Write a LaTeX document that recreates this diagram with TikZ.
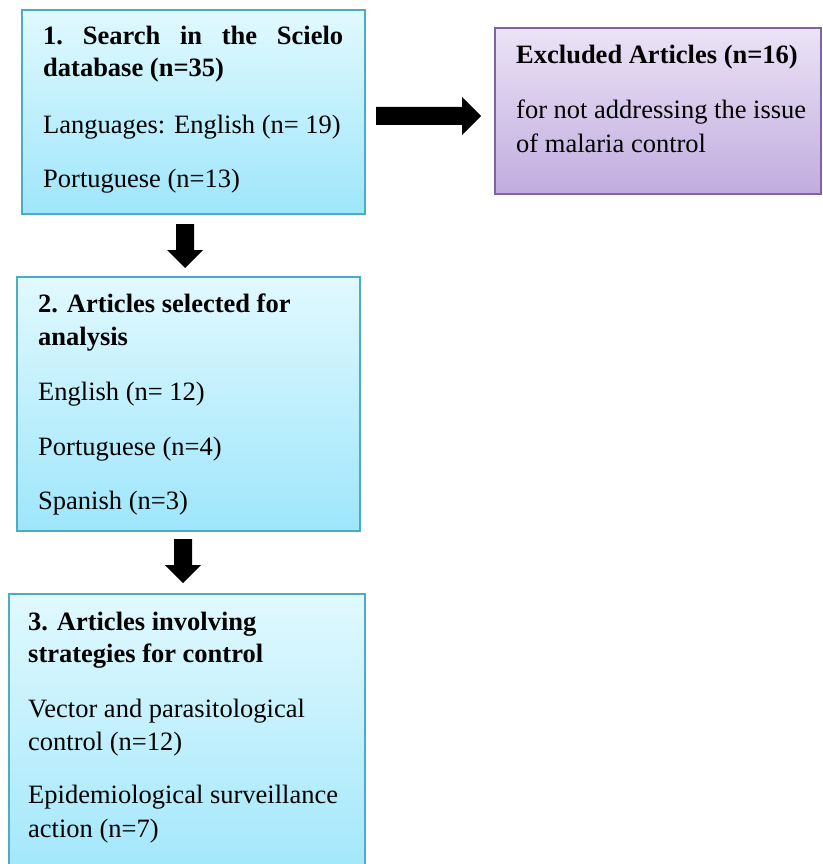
\documentclass[tikz,border=0pt]{standalone}
\usepackage{fontspec}
\setmainfont{Liberation Serif}
\usetikzlibrary{calc}
\definecolor{bluetop}{HTML}{E1F9FE}
\definecolor{bluebot}{HTML}{9EE6FB}
\definecolor{blueline}{HTML}{4BACC6}
\definecolor{purptop}{HTML}{EBE3F6}
\definecolor{purpbot}{HTML}{C1ACDF}
\definecolor{purpline}{HTML}{8064A2}
\tikzset{
  boxbase/.style={anchor=north west, inner sep=0pt, outer sep=0pt, line width=2pt},
  bluebox/.style={boxbase, draw=blueline, top color=bluetop, bottom color=bluebot},
  purpbox/.style={boxbase, draw=purpline, top color=purptop, bottom color=purpbot},
  txt/.style={anchor=base west, inner sep=0pt, font=\fontsize{26.5}{33}\selectfont},
  btxt/.style={txt, font=\fontsize{26.5}{33}\selectfont\bfseries},
  blockarrow/.style={fill=black, draw=none}
}
\newcommand{\downblock}[2]{% #1 = top centre coordinate, #2 = tip coordinate
  \fill[blockarrow] ($(#1)+(-9,0)$) -- ($(#1)+(9,0)$) -- ($(#2)+(9,-18)$) -- ($(#2)+(18,-18)$) -- (#2) -- ($(#2)+(-18,-18)$) -- ($(#2)+(-9,-18)$) -- cycle;}
\begin{document}
\begin{tikzpicture}[x=1pt,y=-1pt]
\useasboundingbox (0,0) rectangle (822,864);
\clip (0,0) rectangle (822,864);
% boxes
\node[bluebox, minimum width=343pt, minimum height=204pt] (b1) at (22,10) {};
\node[purpbox, minimum width=326pt, minimum height=166pt] (ex) at (495,28) {};
\node[bluebox, minimum width=343pt, minimum height=254pt] (b2) at (17,277) {};
\node[bluebox, minimum width=356pt, minimum height=296pt] (b3) at (9,594) {};
% box 1 text
\node[btxt] (t1a) at (43,45) {\hbox to 300pt{1.\hfill Search\hfill in\hfill the\hfill Scielo}};
\node[btxt] (t1b) at (43,77) {database (n=35)};
\node[txt] (t1c) at (43,133) {Languages: English (n= 19)};
\node[txt] (t1d) at (43,187) {Portuguese (n=13)};
% excluded text
\node[btxt] (tea) at (516,64) {Excluded Articles (n=16)};
\node[txt] (teb) at (516,119) {for not addressing the issue};
\node[txt] (tec) at (516,152) {of malaria control};
% box 2 text
\node[btxt] (t2a) at (38,312) {2. Articles selected for};
\node[btxt] (t2b) at (38,345) {analysis};
\node[txt] (t2c) at (38,400) {English (n= 12)};
\node[txt] (t2d) at (38,455) {Portuguese (n=4)};
\node[txt] (t2e) at (38,509) {Spanish (n=3)};
% box 3 text
\node[btxt] (t3a) at (28,630) {3. Articles involving};
\node[btxt] (t3b) at (28,662) {strategies for control};
\node[txt] (t3c) at (28,717) {Vector and parasitological};
\node[txt] (t3d) at (28,750) {control (n=12)};
\node[txt] (t3e) at (28,803) {Epidemiological surveillance};
\node[txt] (t3f) at (28,837) {action (n=7)};
% connectors
\coordinate (r1) at ($(b1.east)+(11,4)$);
\coordinate (r2) at ($(ex.west)+(-14,5)$);
\fill[blockarrow] ($(r1)+(0,-9)$) -- ($(r2)+(-19,-9)$) -- ($(r2)+(-19,-19)$) -- (r2) -- ($(r2)+(-19,19)$) -- ($(r2)+(-19,9)$) -- ($(r1)+(0,9)$) -- cycle;
\coordinate (d1a) at ($(b1.south west)+(163,10)$);
\coordinate (d1b) at ($(b2.north west)+(168,-9)$);
\downblock{d1a}{d1b}
\coordinate (d2a) at ($(b2.south west)+(166,8)$);
\coordinate (d2b) at ($(b3.north west)+(174,-11)$);
\downblock{d2a}{d2b}
\end{tikzpicture}
\end{document}
